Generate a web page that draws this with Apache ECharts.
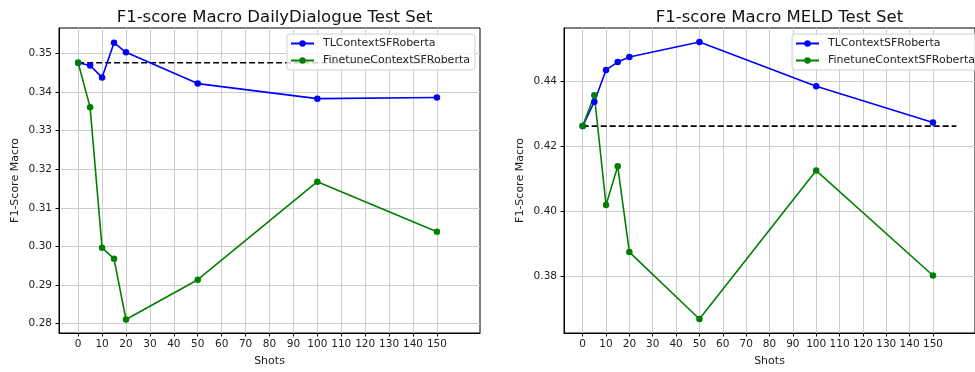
<!DOCTYPE html>
<html>
<head>
<meta charset="utf-8">
<script src="https://cdn.jsdelivr.net/npm/echarts@6/dist/echarts.min.js"></script>
<style>
  html, body { margin: 0; padding: 0; background: #fff; }
  #chart { width: 975px; height: 372px; }
</style>
</head>
<body>
<div id="chart"></div>
<script>
// shots on the x axis
const shots = [0, 5, 10, 15, 20, 50, 100, 150];
const xTicks = [0, 10, 20, 30, 40, 50, 60, 70, 80, 90, 100, 110, 120, 130, 140, 150];

// DailyDialogue
const ddTL = [0.3476, 0.3469, 0.3438, 0.3528, 0.3503, 0.3422, 0.3383, 0.3386];
const ddFinetune = [0.3476, 0.3361, 0.2997, 0.2968, 0.2811, 0.2914, 0.3168, 0.3038];
const ddBaseline = 0.3476;
const ddTicks = [0.28, 0.29, 0.30, 0.31, 0.32, 0.33, 0.34, 0.35];

// MELD
const meldTL = [0.4262, 0.4337, 0.4435, 0.4459, 0.4475, 0.4521, 0.4385, 0.4273];
const meldFinetune = [0.4262, 0.4357, 0.4019, 0.4138, 0.3874, 0.3668, 0.4125, 0.3802];
const meldBaseline = 0.4262;
const meldTicks = [0.38, 0.40, 0.42, 0.44];

const baselineEnd = 160;
const font = 'DejaVu Sans';
const gridColor = '#cdcdcd';

function pairs(ys) {
  return shots.map((x, i) => [x, ys[i]]);
}

function xAxis(gridIndex) {
  return {
    type: 'value',
    gridIndex: gridIndex,
    min: -8,
    max: 168,
    name: 'Shots',
    nameLocation: 'middle',
    nameGap: 23,
    nameTextStyle: {fontFamily: font, fontSize: 11, color: '#222'},
    axisLine: {show: true, onZero: false, lineStyle: {color: '#000', width: 1}},
    axisTick: {show: true, length: 3.5, customValues: xTicks, lineStyle: {color: '#000'}},
    axisLabel: {customValues: xTicks, fontFamily: font, fontSize: 10.5, color: '#222', margin: 6},
    splitLine: {show: true, customValues: xTicks, lineStyle: {color: gridColor, width: 1}}
  };
}

function yAxis(gridIndex, min, max, ticks) {
  return {
    type: 'value',
    gridIndex: gridIndex,
    min: min,
    max: max,
    name: 'F1-Score Macro',
    nameLocation: 'middle',
    nameGap: 38,
    nameTextStyle: {fontFamily: font, fontSize: 11, color: '#222'},
    axisLine: {show: true, onZero: false, lineStyle: {color: '#000', width: 1}},
    axisTick: {show: true, length: 3.5, customValues: ticks, lineStyle: {color: '#000'}},
    axisLabel: {
      customValues: ticks,
      fontFamily: font,
      fontSize: 10.5,
      color: '#222',
      margin: 7,
      formatter: v => v.toFixed(2)
    },
    splitLine: {show: true, customValues: ticks, lineStyle: {color: gridColor, width: 1}}
  };
}

function lineSeries(name, color, idx, ys) {
  return {
    name: name,
    type: 'line',
    xAxisIndex: idx,
    yAxisIndex: idx,
    data: pairs(ys),
    symbol: 'circle',
    symbolSize: 6.5,
    showSymbol: true,
    animation: false,
    itemStyle: {color: color},
    lineStyle: {color: color, width: 1.6}
  };
}

function baselineSeries(idx, y) {
  return {
    name: 'baseline',
    type: 'line',
    xAxisIndex: idx,
    yAxisIndex: idx,
    data: [[0, y], [baselineEnd, y]],
    symbol: 'none',
    animation: false,
    z: 1,
    lineStyle: {color: '#000', width: 1.6, type: [6, 3]}
  };
}

function legend(left) {
  return {
    data: ['TLContextSFRoberta', 'FinetuneContextSFRoberta'],
    orient: 'vertical',
    left: left,
    top: 34,
    itemWidth: 23,
    itemHeight: 8,
    itemGap: 4,
    padding: [3, 5, 3, 3],
    backgroundColor: 'rgba(255,255,255,0.8)',
    borderColor: '#d0d0d0',
    borderWidth: 1,
    borderRadius: 3,
    selectedMode: false,
    textStyle: {fontFamily: font, fontSize: 11, lineHeight: 13, color: '#222', padding: [0, 0, 0, 4]}
  };
}

const chart = echarts.init(document.getElementById('chart'));
chart.setOption({
  backgroundColor: '#fff',
  animation: false,
  title: [
    {text: 'F1-score Macro DailyDialogue Test Set', left: 269.5, top: 4, textAlign: 'center',
     textStyle: {fontFamily: font, fontSize: 16.5, fontWeight: 'normal', color: '#111'}},
    {text: 'F1-score Macro MELD Test Set', left: 774.5, top: 4, textAlign: 'center',
     textStyle: {fontFamily: font, fontSize: 16.5, fontWeight: 'normal', color: '#111'}}
  ],
  legend: [legend(287), legend(792)],
  grid: [
    {left: 59, top: 28, width: 421, height: 308, show: true, borderColor: '#000', borderWidth: 1, containLabel: false},
    {left: 564, top: 28, width: 421, height: 308, show: true, borderColor: '#000', borderWidth: 1, containLabel: false}
  ],
  xAxis: [xAxis(0), xAxis(1)],
  yAxis: [yAxis(0, 0.2776, 0.3566, ddTicks), yAxis(1, 0.3625, 0.4564, meldTicks)],
  series: [
    lineSeries('TLContextSFRoberta', '#0000ff', 0, ddTL),
    lineSeries('FinetuneContextSFRoberta', '#008000', 0, ddFinetune),
    baselineSeries(0, ddBaseline),
    lineSeries('TLContextSFRoberta', '#0000ff', 1, meldTL),
    lineSeries('FinetuneContextSFRoberta', '#008000', 1, meldFinetune),
    baselineSeries(1, meldBaseline)
  ]
});
</script>
</body>
</html>
